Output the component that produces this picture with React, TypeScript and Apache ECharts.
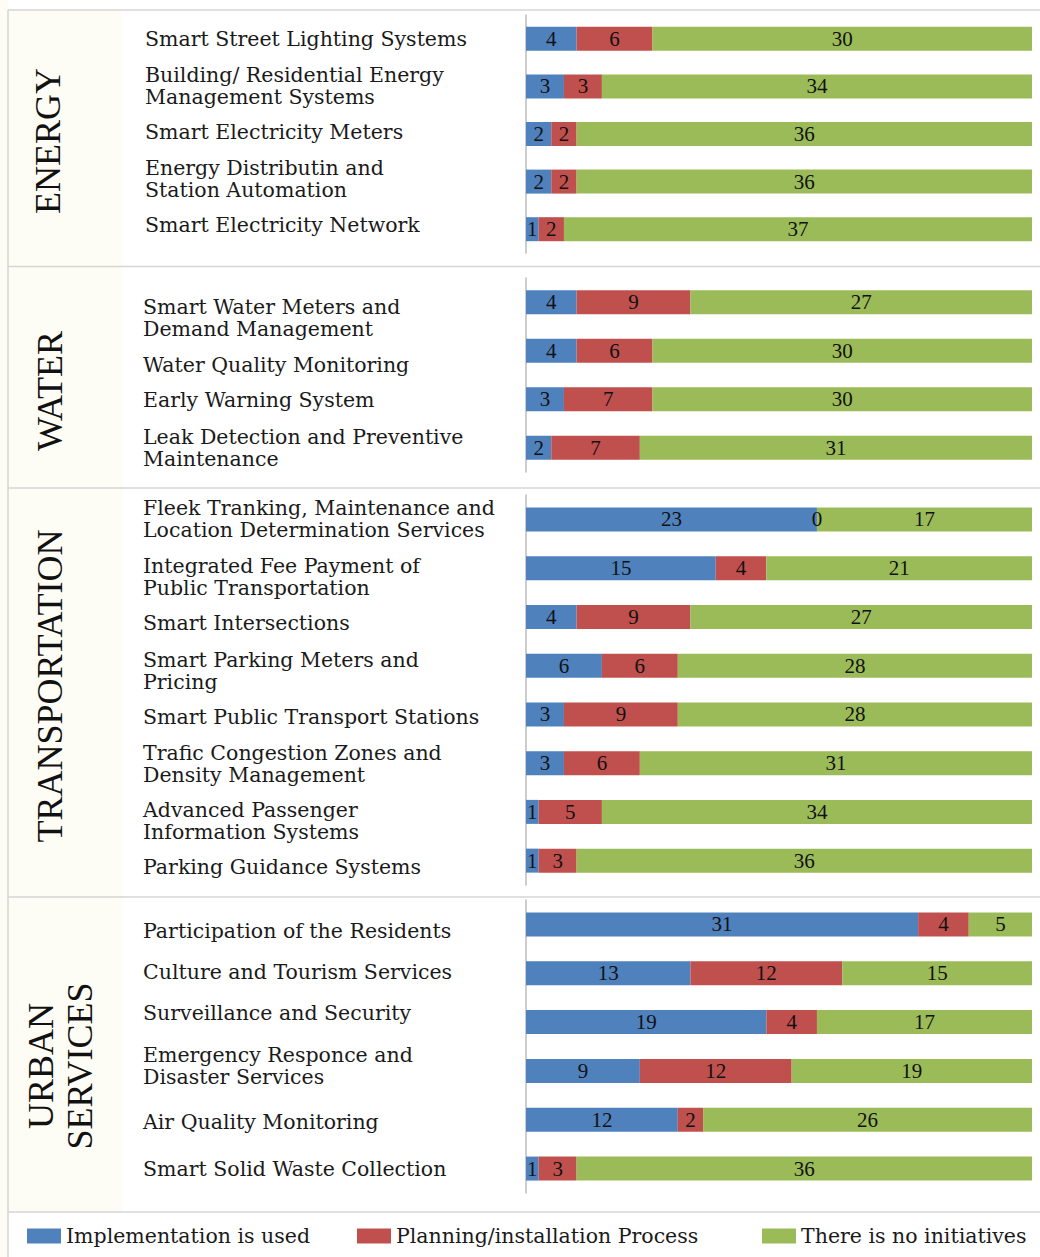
import React, { useEffect, useRef } from "react";
import * as echarts from "echarts";

// ---------- data ----------
const statusNames = ["Implementation is used", "Planning/installation Process", "There is no initiatives"];
const sectionTitles = ["ENERGY", "WATER", "TRANSPORTATION", "URBAN\nSERVICES"];

const energyLabels = [
  "Smart Street Lighting Systems",
  "Building/ Residential Energy\nManagement Systems",
  "Smart Electricity Meters",
  "Energy Distributin and\nStation Automation",
  "Smart Electricity Network",
];
const energyImpl = [4, 3, 2, 2, 1];
const energyPlan = [6, 3, 2, 2, 2];
const energyNone = [30, 34, 36, 36, 37];

const waterLabels = [
  "Smart Water Meters and\nDemand Management",
  "Water Quality Monitoring",
  "Early Warning System",
  "Leak Detection and Preventive\nMaintenance",
];
const waterImpl = [4, 4, 3, 2];
const waterPlan = [9, 6, 7, 7];
const waterNone = [27, 30, 30, 31];

const transportLabels = [
  "Fleek Tranking, Maintenance and\nLocation Determination Services",
  "Integrated Fee Payment of\nPublic Transportation",
  "Smart Intersections",
  "Smart Parking Meters and\nPricing",
  "Smart Public Transport Stations",
  "Trafic Congestion Zones and\nDensity Management",
  "Advanced Passenger\nInformation Systems",
  "Parking Guidance Systems",
];
const transportImpl = [23, 15, 4, 6, 3, 3, 1, 1];
const transportPlan = [0, 4, 9, 6, 9, 6, 5, 3];
const transportNone = [17, 21, 27, 28, 28, 31, 34, 36];

const urbanLabels = [
  "Participation of the Residents",
  "Culture and Tourism Services",
  "Surveillance and Security",
  "Emergency Responce and\nDisaster Services",
  "Air Quality Monitoring",
  "Smart Solid Waste Collection",
];
const urbanImpl = [31, 13, 19, 9, 12, 1];
const urbanPlan = [4, 12, 4, 12, 2, 3];
const urbanNone = [5, 15, 17, 19, 26, 36];

const axisMax = 40;

// ---------- layout / style ----------
const COLORS = ["#4f81bd", "#c0504d", "#9bbb59"];
const W = 1040;
const H = 1257;
const GRID_LEFT = 526;
const GRID_RIGHT = 8;
const LABEL_FONT = 20.5;
const LABEL_LH = 22;
const layout = [
  { top: 15, height: 238, labelX: 145, nudge: [0, 0, -2, -3, -4], titleX: 48, titleY: 141 },
  { top: 278, height: 194, labelX: 143, nudge: [16, 14, 1, 0], titleX: 50, titleY: 391 },
  { top: 495, height: 390, labelX: 143, nudge: [0, 9, 6, 5, 3, 1, 9, 6], titleX: 50, titleY: 686 },
  { top: 900, height: 293, labelX: 143, nudge: [7, -1, -9, -5, 2, 0], titleX: 60, titleY: 1066 },
];
const dividers = [10, 266.5, 488, 897, 1212];

const sections = [
  { labels: energyLabels, values: [energyImpl, energyPlan, energyNone] },
  { labels: waterLabels, values: [waterImpl, waterPlan, waterNone] },
  { labels: transportLabels, values: [transportImpl, transportPlan, transportNone] },
  { labels: urbanLabels, values: [urbanImpl, urbanPlan, urbanNone] },
];

function buildOption() {
  const grid: any[] = [];
  const xAxis: any[] = [];
  const yAxis: any[] = [];
  const series: any[] = [];

  sections.forEach((sec, s) => {
    const L = layout[s];
    grid.push({
      left: GRID_LEFT,
      right: GRID_RIGHT,
      top: L.top,
      height: L.height,
      containLabel: false,
      outerBoundsMode: "none",
    });
    xAxis.push({
      type: "value",
      gridIndex: s,
      min: 0,
      max: axisMax,
      show: false,
    });
    const rich: any = {
      t: { fontFamily: "DejaVu Serif", fontSize: LABEL_FONT, lineHeight: LABEL_LH, color: "#1a1a1a", align: "left" },
    };
    L.nudge.forEach((d) => {
      const a = Math.abs(d);
      if (a > 0) rich["s" + a] = { fontSize: 1, height: 2 * a, lineHeight: 2 * a };
    });
    yAxis.push({
      type: "category",
      gridIndex: s,
      inverse: true,
      data: sec.labels,
      axisLine: { show: true, lineStyle: { color: "#bdbdbd", width: 1.5 } },
      axisTick: { show: false },
      splitLine: { show: false },
      axisLabel: {
        interval: 0,
        hideOverlap: false,
        align: "left",
        margin: GRID_LEFT - L.labelX,
        fontFamily: "DejaVu Serif",
        fontSize: LABEL_FONT,
        lineHeight: LABEL_LH,
        color: "#1a1a1a",
        rich,
        formatter: (value: string, index: number) => {
          const d = L.nudge[index] || 0;
          const body = String(value)
            .split("\n")
            .map((ln) => `{t|${ln}}`)
            .join("\n");
          if (d > 0) return `{s${d}| }\n` + body;
          if (d < 0) return body + `\n{s${-d}| }`;
          return body;
        },
      },
    });
    sec.values.forEach((vals, k) => {
      series.push({
        type: "bar",
        name: statusNames[k],
        xAxisIndex: s,
        yAxisIndex: s,
        stack: "sec" + s,
        barWidth: 24,
        data: vals,
        itemStyle: { color: COLORS[k] },
        label: {
          show: true,
          position: "inside",
          color: "#111",
          fontFamily: "Liberation Serif",
          fontSize: 21,
        },
        emphasis: { disabled: true },
      });
    });
  });

  const legendBase = {
    top: 1225,
    padding: 0,
    itemWidth: 34,
    itemHeight: 15,
    itemGap: 0,
    icon: "rect",
    selectedMode: false,
    textStyle: { fontFamily: "DejaVu Serif", fontSize: 20.5, color: "#1a1a1a", lineHeight: 22 },
  };
  const legend = [
    { ...legendBase, left: 27, data: [statusNames[0]] },
    { ...legendBase, left: 357, data: [statusNames[1]] },
    { ...legendBase, left: 762, data: [statusNames[2]] },
  ];

  const graphic: any[] = [
    { type: "rect", z: -10, silent: true, shape: { x: 0, y: 0, width: 8, height: H }, style: { fill: "#fdfcf5" } },
    {
      type: "rect",
      z: -10,
      silent: true,
      shape: { x: 8, y: dividers[0], width: 114, height: dividers[4] - dividers[0] },
      style: { fill: "#fdfcf5" },
    },
    {
      type: "line",
      z: -5,
      silent: true,
      shape: { x1: 8, y1: dividers[0], x2: 8, y2: H },
      style: { stroke: "#d4d4d4", lineWidth: 1.5 },
    },
    ...dividers.map((y) => ({
      type: "line",
      z: -5,
      silent: true,
      shape: { x1: 8, y1: y, x2: W, y2: y },
      style: { stroke: "#d6d6d6", lineWidth: 1.5 },
    })),
    ...sectionTitles.map((t, s) => ({
      type: "text",
      silent: true,
      x: layout[s].titleX,
      y: layout[s].titleY,
      rotation: Math.PI / 2,
      style: {
        text: t,
        fontFamily: "Liberation Serif",
        fontSize: 36,
        lineHeight: 39,
        fill: "#111",
        align: "center",
        verticalAlign: "middle",
      },
    })),
  ];

  return {
    animation: false,
    backgroundColor: "#ffffff",
    grid,
    xAxis,
    yAxis,
    series,
    legend,
    graphic,
  };
}

export default function App() {
  const ref = useRef<HTMLDivElement>(null);
  useEffect(() => {
    if (!ref.current) return;
    const chart = echarts.init(ref.current, undefined, { renderer: "svg" });
    chart.setOption(buildOption() as any);
    return () => chart.dispose();
  }, []);
  return <div ref={ref} style={{ position: "absolute", left: 0, top: 0, width: W, height: H }} />;
}
